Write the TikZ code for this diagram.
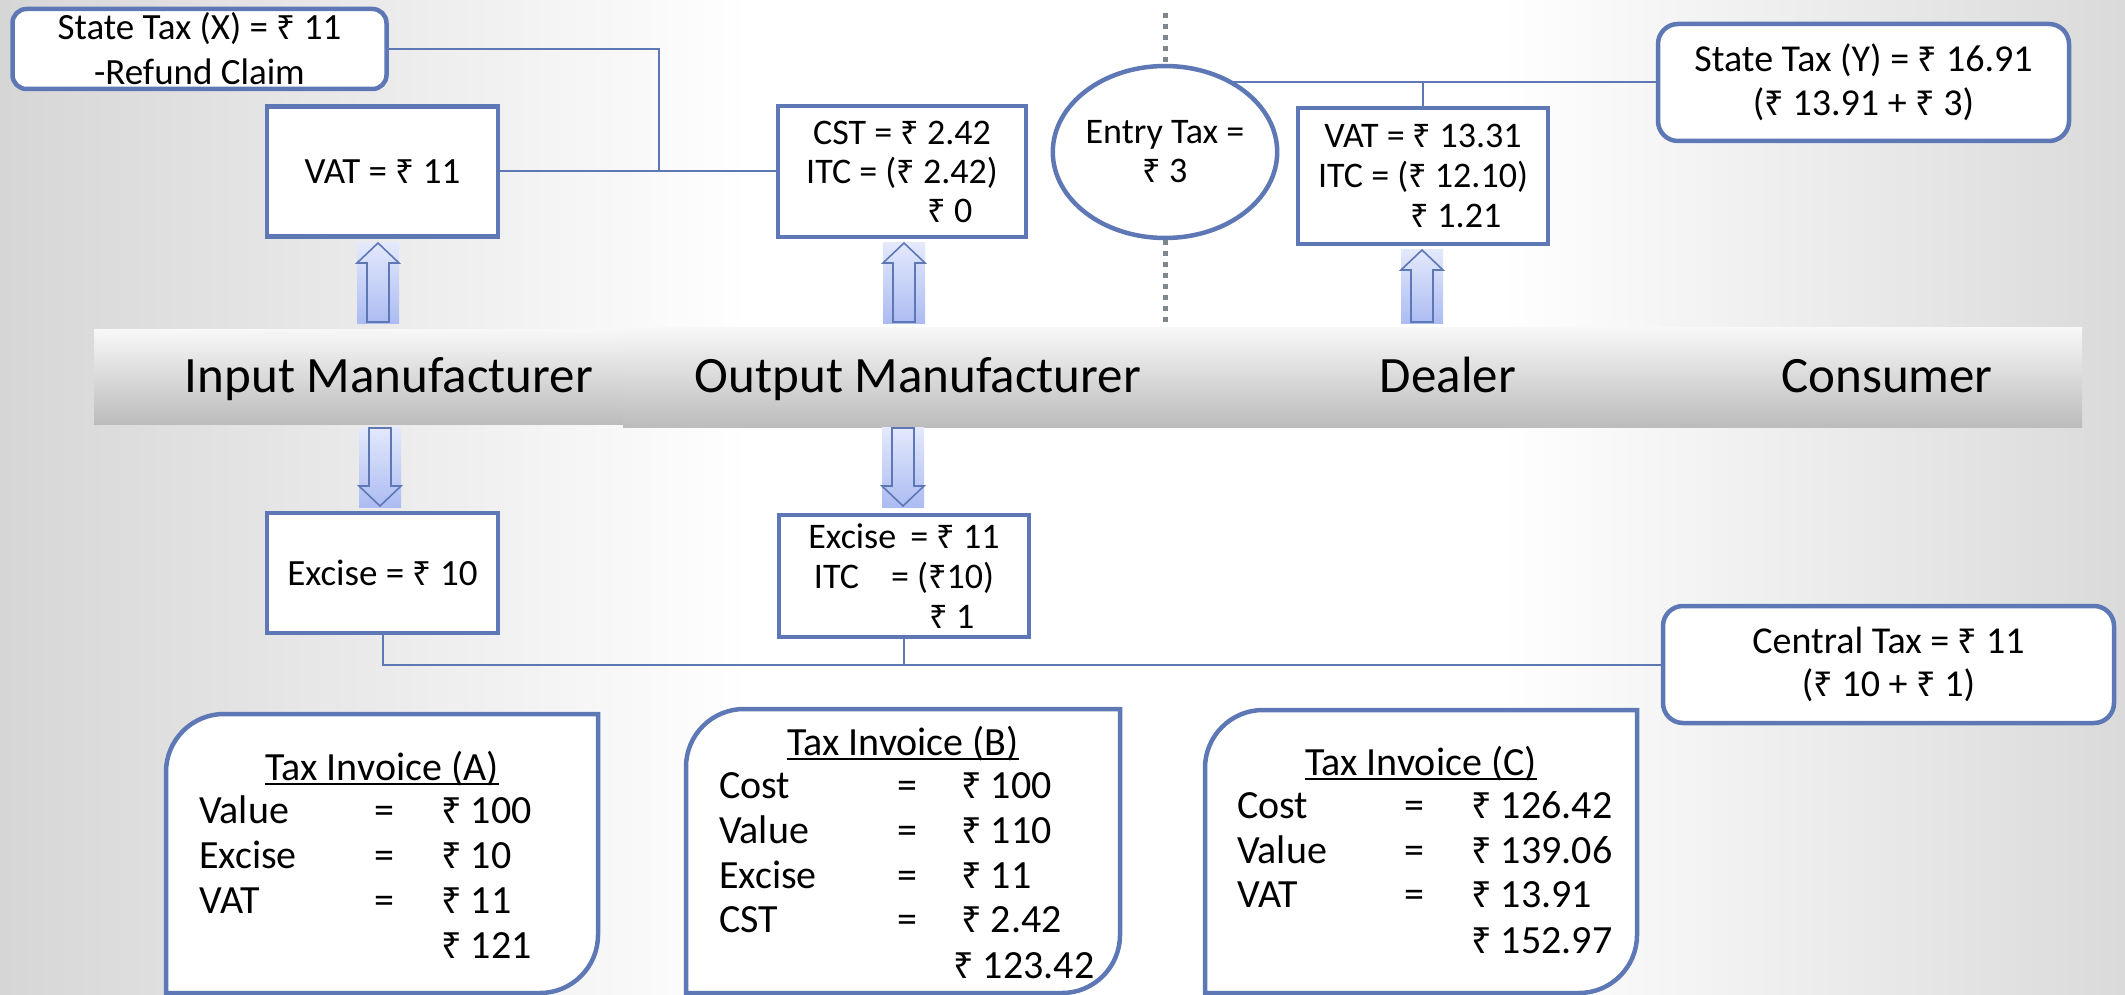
\documentclass[tikz,border=0pt]{standalone}
\usepackage{fontspec}
\setmainfont{Carlito}
\newfontfamily\rsf{Noto Sans}[Scale=0.9]
\newcommand\rs{{\rsf ₹}}
\usetikzlibrary{shapes.geometric,calc}
\definecolor{bblue}{RGB}{94,120,182}
\definecolor{bgl}{RGB}{214,214,214}
\definecolor{bgr}{RGB}{218,218,218}
\definecolor{bandtop}{RGB}{248,248,248}
\definecolor{bandmid}{RGB}{226,226,226}
\definecolor{bandbot}{RGB}{188,188,188}
\definecolor{arrtop}{RGB}{228,233,252}
\definecolor{arrbot}{RGB}{172,188,242}
\definecolor{dotgrey}{RGB}{125,135,140}
\tikzset{
 taxbox/.style={draw=bblue, line width=4.5pt, fill=white, inner sep=0pt, align=center, font=\fontsize{37}{40}\selectfont},
 roundbox/.style={taxbox, rounded corners=14pt},
 conn/.style={draw=bblue, line width=2pt},
 bandlabel/.style={anchor=base, font=\fontsize{51}{51}\selectfont, inner sep=0pt},
 invtext/.style={anchor=base west, inner sep=0pt, font=\fontsize{40}{40}\selectfont},
 inveq/.style={anchor=base, inner sep=0pt, font=\fontsize{40}{40}\selectfont},
 invbox/.style={draw=bblue, line width=4.5pt, fill=white},
 arrowline/.style={draw=bblue, line width=1.6pt},
 dotline/.style={draw=dotgrey, line width=5pt, dash pattern=on 5pt off 6pt},
}
\newcommand\uparrowshape[3]{%
 \shade[top color=arrtop, bottom color=arrbot] (#1-21,#2) rectangle (#1+21,#3);
 \draw[arrowline] (#1,#2+1) -- (#1+21,#2+21) -- (#1+11,#2+21) -- (#1+11,#3-1) -- (#1-11,#3-1) -- (#1-11,#2+21) -- (#1-21,#2+21) -- cycle;}
\newcommand\downarrowshape[3]{%
 \shade[top color=arrtop, bottom color=arrbot] (#1-21,#2) rectangle (#1+21,#3);
 \draw[arrowline] (#1-11,#2+1) -- (#1+11,#2+1) -- (#1+11,#3-21) -- (#1+21,#3-21) -- (#1,#3-1) -- (#1-21,#3-21) -- (#1-11,#3-21) -- cycle;}
\newcommand\invoiceshape[4]{%
 \draw[invbox] (#1,#4) -- (#1,#2+58) .. controls (#1,#2+26) and (#1+26,#2) .. (#1+58,#2) -- (#3,#2) -- (#3,#4-58) .. controls (#3,#4-26) and (#3-26,#4) .. (#3-58,#4) -- cycle;}
\begin{document}
\begin{tikzpicture}[x=1pt,y=-1pt]
\useasboundingbox (0,0) rectangle (2125,995);
% background
\shade[left color=bgl, right color=white] (0,0) rectangle (750,995);
\fill[white] (749,0) rectangle (1501,995);
\shade[left color=white, right color=bgr] (1500,0) rectangle (2125,995);
% band
\shade[top color=bandtop, middle color=bandmid, bottom color=bandbot] (94,329) rectangle (623,424);
\shade[top color=bandtop, middle color=bandmid, bottom color=bandbot] (623,327) rectangle (2082,427);
\node[bandlabel] (lin) at (389,392) {Input Manufacturer};
\node[bandlabel] (lout) at (918,392) {Output Manufacturer};
\node[bandlabel] (ldeal) at (1448,392) {Dealer};
\node[bandlabel] (lcons) at (1887,392) {Consumer};
% block arrows
\uparrowshape{378}{242}{323}
\uparrowshape{904}{242}{323}
\uparrowshape{1422}{249}{323}
\downarrowshape{380}{427}{507}
\downarrowshape{903}{427}{507}
% boxes
\node[roundbox, minimum width=374pt, minimum height=80pt, font=\fontsize{37}{45}\selectfont] (stateX) at (199.5,49) {State Tax (X) = \rs\ 11\\-Refund Claim};
\node[taxbox, minimum width=231pt, minimum height=130pt] (vat1) at (382.5,171.5) {VAT = \rs\ 11};
\node[taxbox, minimum width=248pt, minimum height=131pt, font=\fontsize{36}{39}\selectfont] (cst) at (902,171.5) {CST = \rs\ 2.42\\ITC = (\rs\ 2.42)\\\hspace*{96pt}\rs\ 0};
\node[draw=bblue, line width=4.5pt, ellipse, fill=white, minimum width=202pt, minimum height=172pt, inner sep=0pt, align=center, font=\fontsize{36}{39}\selectfont] (entry) at (1165,152) {Entry Tax =\\\rs\ 3};
\node[taxbox, minimum width=250pt, minimum height=136pt, font=\fontsize{36}{40}\selectfont] (dealer) at (1423,176) {VAT = \rs\ 13.31\\ITC = (\rs\ 12.10)\\\hspace*{66pt}\rs\ 1.21};
\node[roundbox, rounded corners=20pt, minimum width=411pt, minimum height=117pt, font=\fontsize{38}{44}\selectfont] (stateY) at (1863.5,82.5) {State Tax (Y) = \rs\ 16.91\\(\rs\ 13.91 + \rs\ 3)};
\node[taxbox, minimum width=231pt, minimum height=120pt, font=\fontsize{37}{40}\selectfont] (ex1) at (382.5,573) {Excise = \rs\ 10};
\node[taxbox, minimum width=250pt, minimum height=122pt, font=\fontsize{36}{40}\selectfont] (ex2) at (904,576) {Excise\hspace{6pt} = \rs\ 11\\ITC\hspace{24pt} = (\rs10)\\\hspace*{96pt}\rs\ 1};
\node[roundbox, rounded corners=20pt, minimum width=451pt, minimum height=117pt, font=\fontsize{38}{43}\selectfont] (central) at (1888.5,664.5) {Central Tax = \rs\ 11\\(\rs\ 10 + \rs\ 1)};
% connectors
\coordinate (jx) at (659,171.5);
\draw[conn] (stateX.east) -| (jx) -- (cst.west);
\draw[conn] (vat1.east) -- (cst.west);
\draw[conn] (stateY.west) -- (stateY.west -| entry.47);
\draw[conn] (dealer.north) -- (dealer.north |- stateY.west);
\draw[conn] (ex1.south) |- (central.west);
\draw[conn] (ex2.south) -- (ex2.south |- central.west);
% dotted divider
\coordinate (dtop) at (1165,13);
\coordinate (dbot) at (1165,322);
\draw[dotline] (dtop) -- (entry.north);
\draw[dotline] (entry.south) -- (dbot);
% invoices
\invoiceshape{166}{714}{598}{993}
\invoiceshape{686}{709}{1120}{993}
\invoiceshape{1205}{710}{1637}{993}
% invoice A
\node[inveq] (aT) at (382,780) {Tax Invoice (A)};
\draw[line width=2pt] ([yshift=-4pt]aT.base west) -- ([yshift=-4pt]aT.base east);
\node[invtext] (a1) at (199,823) {Value};
\node[inveq] (a1e) at (384,823) {=};
\node[invtext] (a1v) at (441,823) {\rs\ 100};
\node[invtext] (a2) at (199,868) {Excise};
\node[inveq] (a2e) at (384,868) {=};
\node[invtext] (a2v) at (441,868) {\rs\ 10};
\node[invtext] (a3) at (199,913) {VAT};
\node[inveq] (a3e) at (384,913) {=};
\node[invtext] (a3v) at (441,913) {\rs\ 11};
\node[invtext] (a4v) at (441,958) {\rs\ 121};
% invoice B
\node[inveq] (bT) at (903,755) {Tax Invoice (B)};
\draw[line width=2pt] ([yshift=-4pt]bT.base west) -- ([yshift=-4pt]bT.base east);
\node[invtext] (b1) at (719,798) {Cost};
\node[inveq] (b1e) at (907,798) {=};
\node[invtext] (b1v) at (961,798) {\rs\ 100};
\node[invtext] (b2) at (719,843) {Value};
\node[inveq] (b2e) at (907,843) {=};
\node[invtext] (b2v) at (961,843) {\rs\ 110};
\node[invtext] (b3) at (719,888) {Excise};
\node[inveq] (b3e) at (907,888) {=};
\node[invtext] (b3v) at (961,888) {\rs\ 11};
\node[invtext] (b4) at (719,932) {CST};
\node[inveq] (b4e) at (907,932) {=};
\node[invtext] (b4v) at (961,932) {\rs\ 2.42};
\node[invtext] (b5v) at (953,978) {\rs\ 123.42};
% invoice C
\node[inveq] (cT) at (1421,775) {Tax Invoice (C)};
\draw[line width=2pt] ([yshift=-4pt]cT.base west) -- ([yshift=-4pt]cT.base east);
\node[invtext] (c1) at (1237,818) {Cost};
\node[inveq] (c1e) at (1414,818) {=};
\node[invtext] (c1v) at (1471,818) {\rs\ 126.42};
\node[invtext] (c2) at (1237,863) {Value};
\node[inveq] (c2e) at (1414,863) {=};
\node[invtext] (c2v) at (1471,863) {\rs\ 139.06};
\node[invtext] (c3) at (1237,907) {VAT};
\node[inveq] (c3e) at (1414,907) {=};
\node[invtext] (c3v) at (1471,907) {\rs\ 13.91};
\node[invtext] (c4v) at (1471,953) {\rs\ 152.97};
\end{tikzpicture}
\end{document}
